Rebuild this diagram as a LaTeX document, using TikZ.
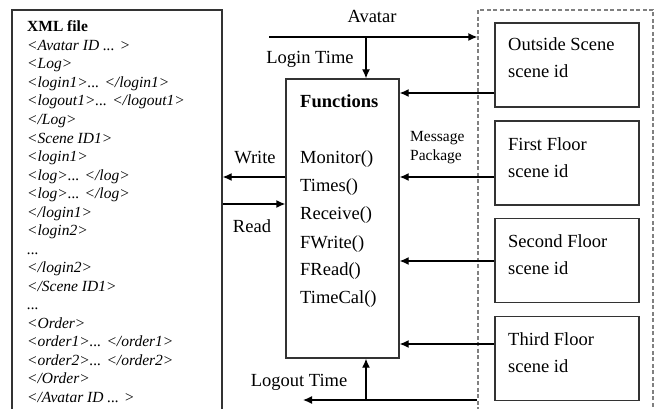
\documentclass[tikz,border=0pt]{standalone}
\usepackage{fontspec}
\setmainfont{Liberation Serif}
\usepackage{tikz}
\usetikzlibrary{positioning,arrows.meta,calc}
\newcommand\xdots{...}
\tikzset{
  box/.style={draw=black!80,line width=1.3pt,inner sep=0pt},
  scenebox/.style={box,minimum width=144pt,minimum height=84pt},
  groupbox/.style={draw=black!50,dashed,dash pattern=on 4pt off 2.5pt,line width=1.3pt,inner sep=0pt},
  arr/.style={draw,->,>={Latex[length=9pt,width=8pt]},line width=1.3pt},
  txt/.style={inner sep=0pt,font=\fontsize{18.5}{22}\selectfont},
  small/.style={inner sep=0pt,font=\fontsize{15.5}{18}\selectfont},
}

\begin{document}
\begin{tikzpicture}[x=1pt,y=-1pt]
\useasboundingbox (0,0) rectangle (658,409);

% file on the left (open at the bottom)
\node[box,minimum width=210pt,minimum height=410pt] (xml) at (117,215) {};
\node[small,anchor=base west] (xmltitle) at (27,32) {\bfseries XML file};
\foreach \t [count=\i] in {<Avatar ID \xdots{} >,<Log>,<login1>\xdots{} </login1>,
  <logout1>\xdots{} </logout1>,</Log>,<Scene ID1>,<login1>,<log>\xdots{} </log>,
  <log>\xdots{} </log>,</login1>,<login2>,\xdots,</login2>,</Scene ID1>,\xdots,
  <Order>,<order1>\xdots{} </order1>,<order2>\xdots{} </order2>,</Order>,</Avatar ID \xdots{} >}
  \node[small,anchor=base west] (xml\i) at (27,32+18.5*\i) {\itshape\t};

% functions
\node[box,minimum width=113pt,minimum height=279pt] (funcs) at (342.5,218.5) {};
\node[txt,anchor=base west] (ftitle) at (300,108) {\bfseries Functions};
\node[txt,anchor=base west] (f1) at (300,163) {Monitor()};
\node[txt,anchor=base west] (f2) at (300,191) {Times()};
\node[txt,anchor=base west] (f3) at (300,219) {Receive()};
\node[txt,anchor=base west] (f4) at (300,248) {FWrite()};
\node[txt,anchor=base west] (f5) at (300,275) {FRead()};
\node[txt,anchor=base west] (f6) at (300,303) {TimeCal()};

% scenes
\node[groupbox,minimum width=175pt,minimum height=410pt] (group) at (565.5,215) {};
\node[scenebox] (outside) at (567,65) {};
\node[scenebox] (first) at (567,163) {};
\node[scenebox] (second) at (567,260.5) {};
\node[scenebox] (third) at (567,358.5) {};
\node[txt,anchor=base west] (s1a) at (508,51) {Outside Scene};
\node[txt,anchor=base west] (s1b) at (508,78) {scene id};
\node[txt,anchor=base west] (s2a) at (508,150) {First Floor};
\node[txt,anchor=base west] (s2b) at (508,177) {scene id};
\node[txt,anchor=base west] (s3a) at (508,247) {Second Floor};
\node[txt,anchor=base west] (s3b) at (508,274) {scene id};
\node[txt,anchor=base west] (s4a) at (508,345) {Third Floor};
\node[txt,anchor=base west] (s4b) at (508,372) {scene id};

% connectors
\coordinate (avstart) at (269,37);
\coordinate (login) at (366,37);
\coordinate (logout) at (366,400);
\coordinate (outend) at (303,400);
\draw[arr] (avstart) -- (avstart -| group.west);
\draw[arr] (login) -- (login |- funcs.north);
\draw[arr] (logout -| group.west) -- (outend);
\draw[arr] (logout) -- (logout |- funcs.south);

\draw[arr] ([yshift=-28pt]outside.west) -- ([yshift=-28pt]outside.west -| funcs.east);
\draw[arr] ([yshift=-14pt]first.west) -- ([yshift=-14pt]first.west -| funcs.east);
\draw[arr] ([yshift=-0.5pt]second.west) -- ([yshift=-0.5pt]second.west -| funcs.east);
\draw[arr] ([yshift=14.5pt]third.west) -- ([yshift=14.5pt]third.west -| funcs.east);

\draw[arr] ([yshift=41.5pt]funcs.west) -- ([yshift=41.5pt]funcs.west -| xml.east);
\draw[arr] ([yshift=14.5pt]funcs.west -| xml.east) -- ([yshift=14.5pt]funcs.west);

% labels
\node[txt,anchor=base] (lavatar) at (372,23) {Avatar};
\node[txt,anchor=base] (llogin) at (310,64) {Login Time};
\node[txt,anchor=base] (lwrite) at (255,163) {Write};
\node[txt,anchor=base] (lread) at (252,232) {Read};
\node[txt,anchor=base] (llogout) at (299,386) {Logout Time};
\node[small,anchor=base west] (lmsg) at (410,142) {Message};
\node[small,anchor=base west] (lpkg) at (410,160) {Package};

\end{tikzpicture}
\end{document}
